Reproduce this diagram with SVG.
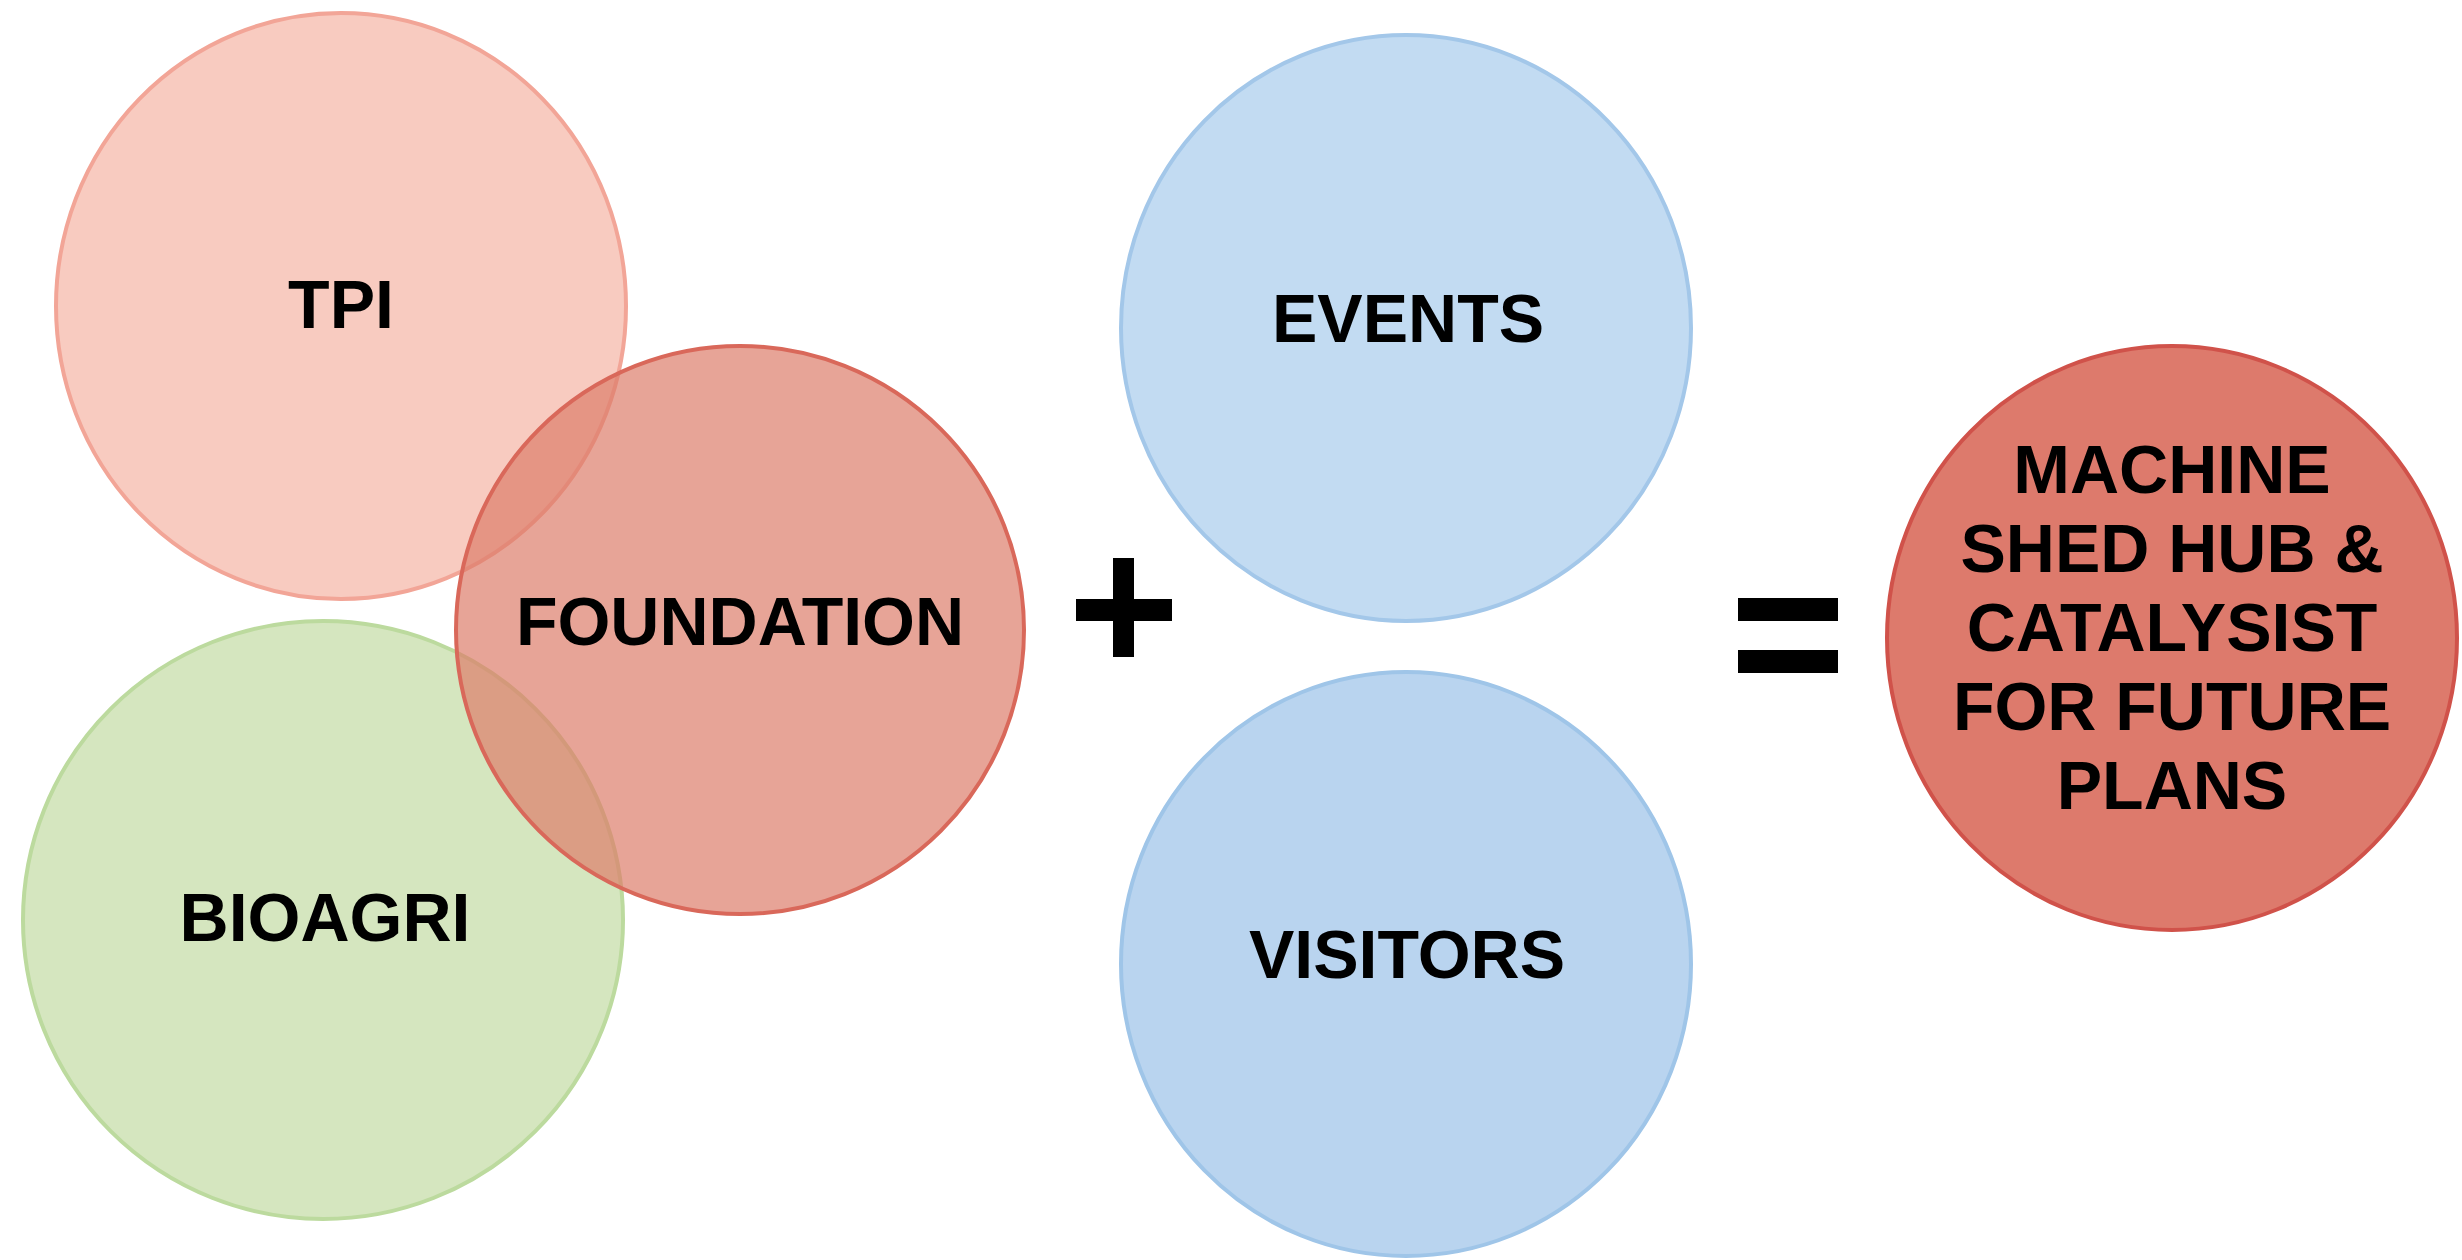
<svg xmlns="http://www.w3.org/2000/svg" width="2462" height="1260" viewBox="0 0 2462 1260">
<style>
.lbl{font-family:"Liberation Sans",Arial,Helvetica,sans-serif;font-weight:bold;font-size:68px;fill:#000;text-anchor:middle}
.op{fill:#000}
</style>
<rect width="2462" height="1260" fill="#ffffff"/>
<g id="node-tpi">
<ellipse cx="341" cy="306" rx="285" ry="293" fill="#f8cbc0" stroke="#f2a597" stroke-width="4"/>
<text class="lbl" x="341" y="328">TPI</text>
</g>
<g id="node-bioagri">
<ellipse cx="323" cy="920" rx="300" ry="299" fill="#d5e6bf" stroke="#bcda9e" stroke-width="4"/>
<text class="lbl" x="325" y="941">BIOAGRI</text>
</g>
<g id="node-foundation">
<ellipse cx="740" cy="630" rx="284" ry="284" fill="#dd7e6b" fill-opacity="0.7" stroke="#d9685a" stroke-width="4"/>
<text class="lbl" x="740" y="645">FOUNDATION</text>
</g>
<g id="node-events">
<ellipse cx="1406" cy="328" rx="285" ry="293" fill="#c2dbf2" stroke="#a3c7e9" stroke-width="4"/>
<text class="lbl" x="1408" y="342">EVENTS</text>
</g>
<g id="node-visitors">
<ellipse cx="1406" cy="964" rx="285" ry="292" fill="#b9d4ef" stroke="#9fc5e8" stroke-width="4"/>
<text class="lbl" x="1407" y="978">VISITORS</text>
</g>
<g id="node-result">
<ellipse cx="2172" cy="638" rx="285" ry="292" fill="#dd7a6c" stroke="#d0524a" stroke-width="4"/>
<text class="lbl" x="2172" y="493">MACHINE</text>
<text class="lbl" x="2172" y="572">SHED HUB &amp;</text>
<text class="lbl" x="2172" y="651">CATALYSIST</text>
<text class="lbl" x="2172" y="730">FOR FUTURE</text>
<text class="lbl" x="2172" y="809">PLANS</text>
</g>
<g id="connectors">
<rect class="op" x="1113" y="558" width="21" height="99"/>
<rect class="op" x="1076" y="599" width="96" height="22"/>
<rect class="op" x="1738" y="598" width="100" height="23"/>
<rect class="op" x="1738" y="650" width="100" height="23"/>
</g>
</svg>
